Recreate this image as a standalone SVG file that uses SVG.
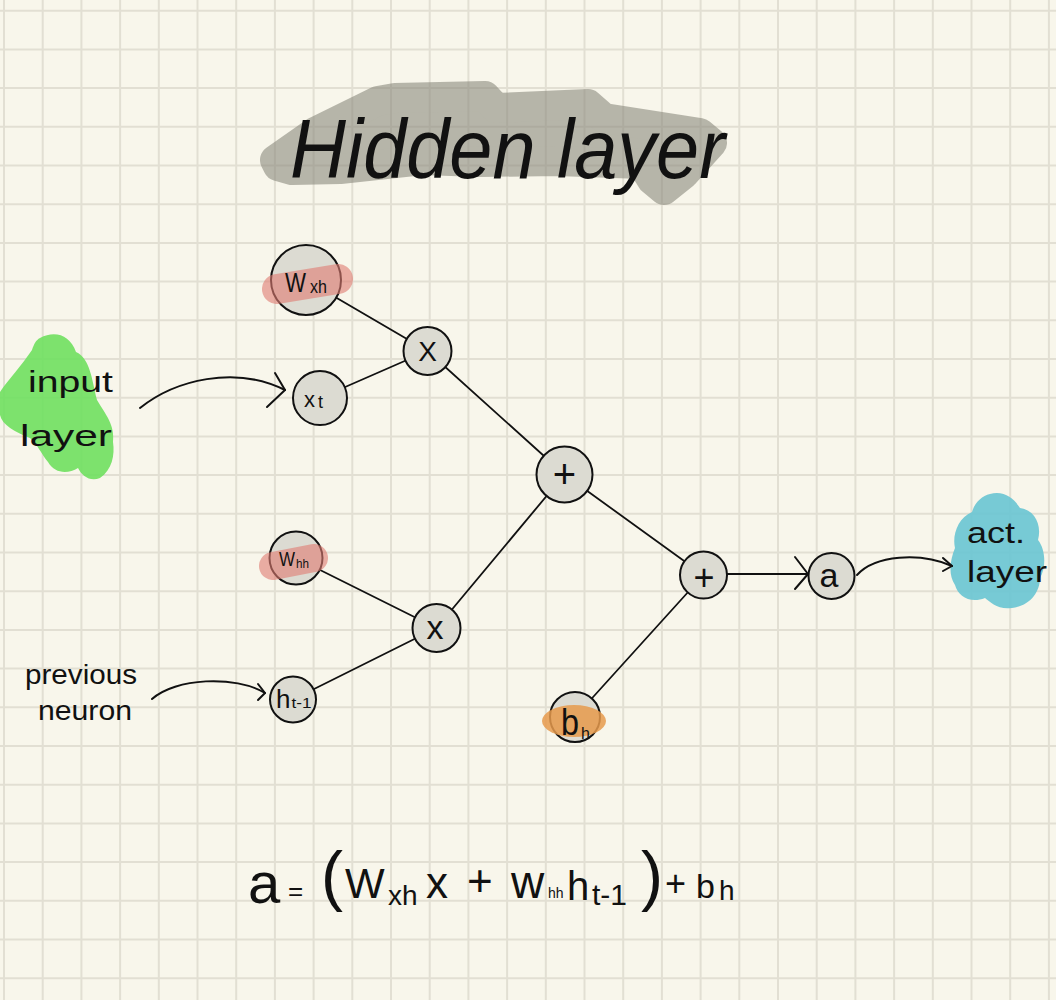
<svg xmlns="http://www.w3.org/2000/svg" width="1056" height="1000" viewBox="0 0 1056 1000">
<style>
.grid{fill:none;stroke:#e2dfd3;stroke-width:2}
.link{fill:none;stroke:#111;stroke-width:1.8;stroke-linecap:round}
.arr{fill:none;stroke:#111;stroke-width:2;stroke-linecap:round;stroke-linejoin:round}
.node{fill:#dcdbd2;stroke:#111;stroke-width:2}
.t{font-family:"Liberation Sans",Arial,sans-serif;fill:#111}
.pink{stroke:#e07c72;stroke-width:30;stroke-linecap:round;opacity:0.6}
</style>
<rect width="1056" height="1000" fill="#f8f6eb"/>
<path class="grid" d="M4 0V1000M42.7 0V1000M81.4 0V1000M120.1 0V1000M158.8 0V1000M197.5 0V1000M236.2 0V1000M274.9 0V1000M313.6 0V1000M352.3 0V1000M391 0V1000M429.7 0V1000M468.4 0V1000M507.1 0V1000M545.8 0V1000M584.5 0V1000M623.2 0V1000M661.9 0V1000M700.6 0V1000M739.3 0V1000M778 0V1000M816.7 0V1000M855.4 0V1000M894.1 0V1000M932.8 0V1000M971.5 0V1000M1010.2 0V1000M1048.9 0V1000"/>
<path class="grid" d="M0 10.7H1056M0 49.4H1056M0 88.1H1056M0 126.8H1056M0 165.5H1056M0 204.2H1056M0 242.9H1056M0 281.6H1056M0 320.3H1056M0 359H1056M0 397.7H1056M0 436.4H1056M0 475.1H1056M0 513.8H1056M0 552.5H1056M0 591.2H1056M0 629.9H1056M0 668.6H1056M0 707.3H1056M0 746H1056M0 784.7H1056M0 823.4H1056M0 862.1H1056M0 900.8H1056M0 939.5H1056M0 978.2H1056"/>

<g id="title">
<path d="M275,160 L315,132 L378,101 L395,98 L485,96 L496,108 L588,104 L604,118 L700,133 L712,143 L684,174 L664,190 L652,180 L642,164 L557,161 L480,162 L423,160 L340,169 L292,170 L278,166 Z" fill="#8b8a7e" stroke="#8b8a7e" stroke-width="30" stroke-linejoin="round" opacity="0.6"/>
<text class="t" x="290" y="178" font-size="84" font-style="italic" textLength="435" lengthAdjust="spacingAndGlyphs">Hidden layer</text>
</g>

<g id="input-label">
<path d="M40,338 C55,330 70,335 76,352 C90,358 92,380 97,400 C106,415 115,425 113,442 C115,455 112,470 100,478 C90,482 82,476 78,468 C68,474 55,474 48,462 C40,452 38,445 30,438 C15,432 2,425 0,415 L0,392 C8,380 22,365 32,350 C34,344 36,340 40,338 Z" fill="#6fe05f" opacity="0.9"/>
<text class="t" x="28" y="392" font-size="30" textLength="85" lengthAdjust="spacingAndGlyphs">input</text>
<text class="t" x="20" y="446" font-size="30" textLength="92" lengthAdjust="spacingAndGlyphs">layer</text>
</g>

<g id="previous-label">
<text class="t" x="25" y="684" font-size="28" textLength="112" lengthAdjust="spacingAndGlyphs">previous</text>
<text class="t" x="38" y="720" font-size="28" textLength="94" lengthAdjust="spacingAndGlyphs">neuron</text>
</g>

<g id="act-label">
<path d="M990,494 C1005,490 1015,500 1020,508 C1035,510 1042,525 1038,540 C1046,550 1046,568 1040,578 C1040,592 1030,606 1012,608 C998,610 990,602 985,598 C970,604 958,596 955,585 C948,575 950,560 955,548 C952,535 958,518 972,512 C975,502 982,496 990,494 Z" fill="#6bc6d2" opacity="0.92"/>
<text class="t" x="967" y="543" font-size="30" textLength="58" lengthAdjust="spacingAndGlyphs">act.</text>
<text class="t" x="967" y="582" font-size="30" textLength="80" lengthAdjust="spacingAndGlyphs">layer</text>
</g>

<g id="connectors">
<line class="link" x1="306" y1="280" x2="427.5" y2="351"/>
<line class="link" x1="320" y1="398" x2="427.5" y2="351"/>
<line class="link" x1="427.5" y1="351" x2="564.5" y2="474.5"/>
<line class="link" x1="296" y1="558" x2="436.5" y2="628"/>
<line class="link" x1="293" y1="699.5" x2="436.5" y2="628"/>
<line class="link" x1="436.5" y1="628" x2="564.5" y2="474.5"/>
<line class="link" x1="564.5" y1="474.5" x2="703.5" y2="575"/>
<line class="link" x1="575" y1="717" x2="703.5" y2="575"/>
<line class="link" x1="727" y1="574" x2="807" y2="574"/>
<path class="arr" d="M795,557 L808,574 L795,589"/>
<path class="arr" d="M140,408 C175,380 235,365 285,390"/>
<path class="arr" d="M275,373 L285,390 L267,407"/>
<path class="arr" d="M152,699 C175,678 235,675 265,693"/>
<path class="arr" d="M258,684 L265,693 L258,700"/>
<path class="arr" d="M857,575 C875,555 920,552 952,566"/>
<path class="arr" d="M943,558 L952,566 L943,571"/>
</g>

<g id="node-wxh">
<circle class="node" cx="306" cy="280" r="35"/>
<line class="pink" x1="277" y1="289" x2="338" y2="279"/>
<text class="t" x="285" y="292" font-size="28" textLength="21" lengthAdjust="spacingAndGlyphs">W</text>
<text class="t" x="310" y="293" font-size="18" textLength="17" lengthAdjust="spacingAndGlyphs">xh</text>
</g>

<g id="node-xt">
<circle class="node" cx="320" cy="398" r="27"/>
<text class="t" x="304" y="407" font-size="22">x</text>
<text class="t" x="318" y="408" font-size="18">t</text>
</g>

<g id="node-mul1">
<circle class="node" cx="427.5" cy="351" r="24"/>
<text class="t" x="427.5" y="361" font-size="28" text-anchor="middle">X</text>
</g>

<g id="node-whh">
<circle class="node" cx="296" cy="558" r="26.5"/>
<line class="pink" x1="273" y1="566" x2="314" y2="558" style="stroke-width:28"/>
<text class="t" x="279" y="566" font-size="20" textLength="16" lengthAdjust="spacingAndGlyphs">W</text>
<text class="t" x="296" y="568" font-size="13" textLength="13" lengthAdjust="spacingAndGlyphs">hh</text>
</g>

<g id="node-mul2">
<circle class="node" cx="436.5" cy="628" r="24"/>
<text class="t" x="435" y="639" font-size="34" text-anchor="middle">x</text>
</g>

<g id="node-ht1">
<circle class="node" cx="293" cy="699.5" r="23"/>
<text class="t" x="276" y="708" font-size="26">h</text>
<text class="t" x="291.5" y="708" font-size="14" textLength="20" lengthAdjust="spacingAndGlyphs">t-1</text>
</g>

<g id="node-add1">
<circle class="node" cx="564.5" cy="474.5" r="28"/>
<text class="t" x="564.5" y="488" font-size="40" text-anchor="middle">+</text>
</g>

<g id="node-add2">
<circle class="node" cx="703.5" cy="575" r="23.5"/>
<text class="t" x="704" y="590" font-size="36" text-anchor="middle">+</text>
</g>

<g id="node-a">
<circle class="node" cx="831.5" cy="576" r="23"/>
<text class="t" x="829" y="587" font-size="34" text-anchor="middle">a</text>
</g>

<g id="node-bh">
<circle class="node" cx="575" cy="717" r="25"/>
<ellipse cx="574" cy="721" rx="32" ry="16" fill="#e69a4c" opacity="0.85"/>
<text class="t" x="561" y="735" font-size="36" textLength="18" lengthAdjust="spacingAndGlyphs">b</text>
<text class="t" x="581" y="739" font-size="16">h</text>
</g>

<g id="formula">
<text class="t"><tspan x="248" y="903" font-size="58">a</tspan><tspan x="288" y="900" font-size="26">=</tspan><tspan x="321" y="898" font-size="66">(</tspan><tspan x="345" y="898" font-size="42">W</tspan><tspan x="388" y="905" font-size="28">xh</tspan><tspan x="426" y="898" font-size="44">x</tspan><tspan x="467" y="896" font-size="44">+</tspan><tspan x="511" y="898" font-size="46">w</tspan><tspan x="548" y="898" font-size="14">hh</tspan><tspan x="567" y="900" font-size="40">h</tspan><tspan x="592" y="905" font-size="30">t-1</tspan><tspan x="641" y="898" font-size="66">)</tspan><tspan x="665" y="896" font-size="36">+</tspan><tspan x="696" y="898" font-size="34">b</tspan><tspan x="719" y="900" font-size="28">h</tspan></text>
</g>
</svg>
